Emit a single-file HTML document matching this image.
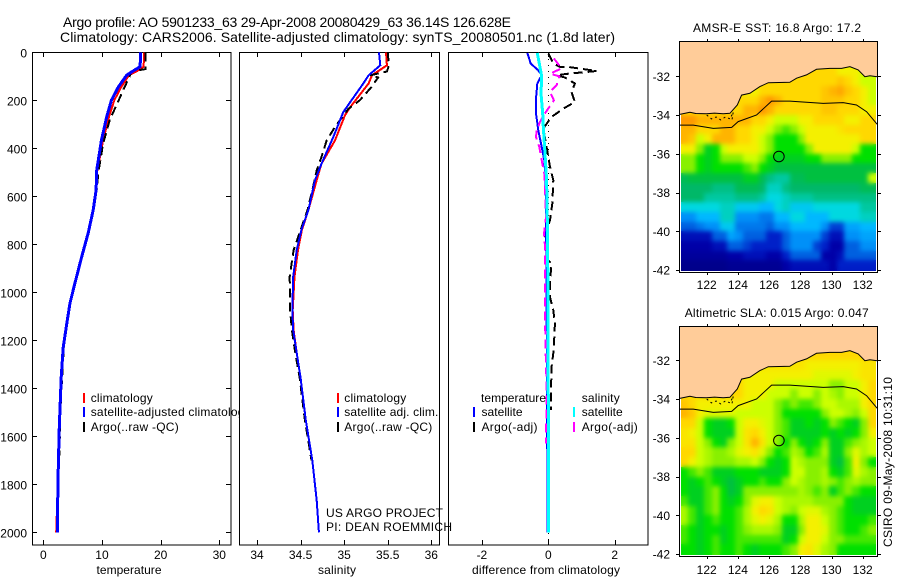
<!DOCTYPE html>
<html>
<head>
<meta charset="utf-8">
<title>Argo profile 5901233_63</title>
<style>
html,body{margin:0;padding:0;background:#fff;}
svg{display:block;}
text{font-family:"Liberation Sans",sans-serif;fill:#000;font-size:12px;}
.title{font-size:14px;}
.frame{fill:#fff;stroke:#000;stroke-width:1;shape-rendering:crispEdges;}
</style>
</head>
<body>
<svg id="chart" xmlns="http://www.w3.org/2000/svg" width="900" height="580" viewBox="0 0 900 580">
  <defs>
    <filter id="heat-smooth" x="-5%" y="-5%" width="110%" height="110%" color-interpolation-filters="sRGB">
      <feGaussianBlur in="SourceGraphic" stdDeviation="2.4" result="soft"/>
      <feMerge>
        <feMergeNode in="SourceGraphic"/>
        <feMergeNode in="soft"/>
      </feMerge>
    </filter>
  </defs>
  <rect x="0" y="0" width="900" height="580" fill="#fff"/>
  <text class="title" x="63" y="27" textLength="448">Argo profile: AO 5901233_63 29-Apr-2008 20080429_63 36.14S 126.628E</text>
  <text class="title" x="60" y="42" textLength="555">Climatology: CARS2006. Satellite-adjusted climatology: synTS_20080501.nc (1.8d later)</text>

  <g id="panel-t">
    <rect class="frame" x="32.5" y="52.5" width="198.5" height="492.5"/>
    <g id="marks-t"></g>
    <rect x="83" y="393" width="2" height="10" fill="#f00"/>
    <rect x="83" y="407" width="2" height="10" fill="#00f"/>
    <rect x="83" y="422" width="2" height="10" fill="#000"/>
    <text x="90.7" y="402" textLength="62">climatology</text>
    <text x="90.7" y="416" textLength="160">satellite-adjusted climatology</text>
    <text x="90.7" y="431" textLength="88">Argo(..raw -QC)</text>
    <text x="129" y="574" text-anchor="middle" textLength="65">temperature</text>
  </g>

  <g id="panel-s">
    <rect class="frame" x="239.5" y="52.5" width="200" height="492.5"/>
    <g id="marks-s"></g>
    <rect x="337" y="393" width="2" height="10" fill="#f00"/>
    <rect x="337" y="407" width="2" height="10" fill="#00f"/>
    <rect x="337" y="422" width="2" height="10" fill="#000"/>
    <text x="344.3" y="402" textLength="62">climatology</text>
    <text x="344.3" y="416" textLength="94">satellite adj. clim.</text>
    <text x="344.3" y="431" textLength="88">Argo(..raw -QC)</text>
    <text x="337" y="574" text-anchor="middle" textLength="38">salinity</text>
  </g>

  <g id="panel-d">
    <rect class="frame" x="448.5" y="52.5" width="199.5" height="492.5"/>
    <line x1="548.5" y1="53" x2="548.5" y2="545" stroke="#000" stroke-width="1" stroke-dasharray="1 5" shape-rendering="crispEdges"/>
    <g id="marks-d"></g>
    <text x="481" y="402" textLength="65">temperature</text>
    <text x="581.7" y="402" textLength="38">salinity</text>
    <rect x="473" y="407" width="2" height="10" fill="#00f"/>
    <rect x="473" y="422" width="2" height="10" fill="#000"/>
    <rect x="573" y="407" width="2" height="10" fill="#0ff"/>
    <rect x="573" y="422" width="2" height="10" fill="#f0f"/>
    <text x="481.5" y="416" textLength="41">satellite</text>
    <text x="481.5" y="431" textLength="56">Argo(-adj)</text>
    <text x="581.7" y="416" textLength="41">satellite</text>
    <text x="581.7" y="431" textLength="56">Argo(-adj)</text>
    <text x="546" y="574" text-anchor="middle" textLength="148">difference from climatology</text>
  </g>

  <text x="326" y="517" textLength="117">US ARGO PROJECT</text>
  <text x="326" y="531" textLength="126">PI: DEAN ROEMMICH</text>

  <g id="map-sst">
    <text x="693" y="32" textLength="168">AMSR-E SST: 16.8 Argo: 17.2</text>
  </g>
  <g id="map-sla">
    <text x="684.7" y="317" textLength="184">Altimetric SLA: 0.015 Argo: 0.047</text>
  </g>

  <text transform="translate(892,547) rotate(-90)" x="0" y="0" textLength="170">CSIRO 09-May-2008 10:31:10</text>
</svg>

<script>
// ---------- profile data ----------
var tempDepths = [0,60,78,96,144,200,269,367,492,574,657,753,852,961,1045,1130,1230,1355,1560,1780,2000];
var tempClim   = [17.2,17.1,16.0,14.6,13.3,12.1,11.2,10.2,9.2,9.0,8.5,7.65,6.55,5.4,4.6,4.0,3.45,3.1,2.75,2.5,2.2];
var tempSat    = [16.6,16.5,15.3,14.2,12.8,11.6,10.8,9.9,9.1,9.0,8.5,7.65,6.55,5.4,4.55,4.0,3.4,3.05,2.73,2.5,2.38];
var argoTDepths = [0,70,79,96,158,220,276,380,500,574,657,753,852,961,1045,1130,1230,1355,1500,1680];
var argoT       = [17.4,17.4,15.0,14.8,13.6,12.5,11.4,10.2,9.4,9.1,8.5,7.6,6.5,5.4,4.6,3.9,3.5,3.2,2.9,2.75];

var salClimDepths = [0,54,96,130,228,262,367,464,519,657,740,824,935,1074,1157,1253,1357,1533,1700,1867,2000];
var salClim       = [35.48,35.49,35.32,35.28,35.07,35.01,34.895,34.74,34.695,34.59,34.515,34.47,34.43,34.41,34.42,34.455,34.50,34.56,34.635,34.685,34.71];
var salSatDepths  = [0,54,96,130,207,249,353,464,533,657,740,824,935,1074,1157,1253,1357,1533,1700,1867,2000];
var salSat        = [35.40,35.415,35.28,35.22,35.07,34.99,34.875,34.74,34.665,34.59,34.51,34.455,34.415,34.405,34.415,34.455,34.50,34.56,34.635,34.685,34.71];
var argoSDepths   = [0,54,80,96,105,125,144,200,235,311,367,436,492,575,657,740,824,935,1074,1157,1253,1357,1533,1700];
var argoS         = [35.5,35.515,35.49,35.3,35.39,35.35,35.315,35.18,35.05,34.895,34.8,34.74,34.685,34.635,34.58,34.50,34.42,34.375,34.38,34.40,34.44,34.49,34.55,34.625];

var diffTSatDepths = [3,47,75,96,130,193,255,325,394,450,533,700,1000,1400,2000];
var diffTSat       = [-0.63,-0.53,-0.3,-0.2,-0.33,-0.37,-0.37,-0.3,-0.2,-0.12,-0.08,-0.07,-0.05,-0.04,-0.02];
var diffSSatDepths = [3,47,100,172,255,311,422,533,700,1000,1500,2000];
var diffSSat       = [-0.33,-0.27,-0.2,-0.22,-0.17,-0.15,-0.1,-0.05,-0.03,-0.01,0.0,0.0];
var diffTArgoDepths = [5,47,61,61,68,78,89,96,105,130,165,207,235,269,317,394,477,533,630,700,755,825,854,880,950,1020,1075,1130,1187,1254,1310,1406,1490];
var diffTArgo       = [0,0.15,0.35,0.6,0.95,1.46,0.6,0.25,0.5,0.8,0.7,0.8,0.45,0.1,-0.15,-0.05,0.05,0.15,0.12,0.05,-0.1,-0.07,-0.1,0.1,0.05,0.05,0.15,0.2,0.18,0.15,0.1,0.08,0.08];
var diffSArgoDepths = [26,67,89,100,137,165,200,254,290,325,353,394,450,506,687,755,810,935,1100,1240,1395,1630];
var diffSArgo       = [0.17,0.4,0.05,0.33,0.25,0.05,0.17,-0.1,-0.25,-0.35,-0.37,-0.27,-0.2,-0.12,-0.07,-0.13,-0.1,-0.1,-0.1,-0.08,-0.05,-0.07];

// ---------- tick labels ----------
var depthTicks = [0,200,400,600,800,1000,1200,1400,1600,1800,2000];
var tempTicks  = [0,10,20,30];
var salTicks   = [34,34.5,35,35.5,36];
var diffTicks  = [-2,0,2];
var lonTicks   = [122,124,126,128,130,132];
var latTicks   = [-32,-34,-36,-38,-40,-42];

// ---------- map data (columns every 0.5 deg from 120.33E, rows every 0.5 deg from 31.5S) ----------
var sstGrid = [
[14,14,14,14,14,14,14,14,14,14,14,14,14,14,14,14,14,14,14,14,13,13,13,12,12],
[14,14,14,14,14,14,14,14,14,14,14,14,14,14,14,14,14,14,14,14,14.5,14,13,12,12],
[14,14,14,14,14,14,14,14,13,13,14,14,14,14,14,14,14,14,14.5,15,15.5,14.5,14,13,12],
[14,14,14,14,14,14,14,14,14,14,15,16,15,14,14,14,14,14,14.5,14.5,14.5,14,14,13,12],
[14,14,14,14,14,14,14,14,15,15,16,15,14,14,14,14,14,14,14.5,14.5,14,14,14,13,13],
[16,16,15,15,15,15,15,15,15,14,14,13,12,12,12,13,13,14,14,14,14,13,13,14,14],
[15,15,14,14,14,15,15,14,14,13,13,12,11,10.5,11,12,13,13,13,13,13.5,14,14,14,14],
[15,14.5,12,13,15,15,15,14,14,13,12,11,10,10,10,11,13,13,13,13,13,13,13,14,14],
[13,13,11,9.5,10,12,13,13,13,13,12,11,10,10,10,10,11,13,13,13,13,13,12,10,10],
[11,11,10,9.5,10,11,11,11,12,12,11,10,9.5,9.5,9.5,9.5,10,10,11,11,11,11,10,10,10],
[11,11,10,9.5,10,10,10,10,10.5,11,10,9.5,9,9,9,9,9,9,9,9,9,9,9,9,9],
[8.5,9,9,9,9,9,9,9,9.5,9.5,8.5,7.5,7,7,8.5,8.5,9,9,9,9,9,9,9,9,12],
[8,8,8,8,7.5,7.5,7.5,8.5,8.5,8.5,8,6.5,6.5,7.5,8,8,8,8,8,8,8,8,8,8.5,8.5],
[8,8,8,7,7,7,7,7.5,7.5,7.5,7,6,6,6.5,7,7,7,7.5,7.5,7.5,7.5,7.5,7.5,7.5,7.5],
[6,6,6,6,6,6.5,6.5,5.5,5.5,5.5,5,5,6,6.5,5.5,5.5,5.5,6,6,6,6,6,6,7,7],
[4,4,5,5,5,6.5,6.5,4,4,4,3.5,3.5,5,5,6,6,5,5,5,6,6,6,6,6.5,6.5],
[3,3,3.5,4,4,5.5,5.5,3.5,3.5,3.5,3.5,3,4,4,5,5,5,5,4,2.5,2.5,4.5,4.5,5,5],
[1.5,1.5,1.5,1.5,3,3,4.5,4,3,3,3,2,2,3,4,4,4,4,2.5,1.5,1.5,4,4,4.5,4.5],
[1,1,1,1,1.5,1.5,3,3,2.5,2,2,2,2,3,4,4,4,2.5,2,1,1,3,3,4,4],
[0.7,0.7,0.7,0.7,0.7,0.7,1,1,1.5,1.5,1.5,1,1,2,3,3,3,3,1,1,1.5,3,3,3,3],
[0.3,0.3,0.3,0.3,0.3,0.3,0.5,0.5,0.5,0.5,0.5,0.5,0.5,1,1.5,1.5,1.5,1.5,1.5,1,2,2,2,2,2],
[0,0,0,0,0,0,0,0,0,0,0,0,0,0.5,1,1,1,1,1,1,1.5,1.5,1.5,1.5,1.5]
];
var slaGrid = [
[14,14,14,14,14,14,14,14,14,14,14,14,14,14,14,14,14,14,14,14,14,14,14,14,14],
[14,14,14,14,14,14,14,14,13.5,13.5,13.5,13.5,13.5,13.5,13.5,13.5,13,13,13,13,13,13,13,13.5,13.5],
[14,14,14,14,14,14,14,14,13,13,13,13,13,13,13,13,13,12.5,12.5,12.5,12.5,12.5,13,13.5,13.5],
[14,14,14,14,14,14,14,14,13,13,13,13,12,12,12,12,12,12,12,11,11,12,12,13,14],
[14,14,14,14,14,14,14,14,13,13,13,12,12,12,11,12,12,11,12,11.5,11,12,12,13,14],
[14.5,14,13,13,13,13,13,13,13,12,12,12,11,10.5,11,10.5,10.5,11,12,12,11.5,11.5,11.5,13,14],
[15,14.5,13,12.5,12.5,12.5,12.5,12,12,12,12,12,11,10,10,10,10,10,11,12,12,11.5,11,12,14],
[14,14,12,10,9.5,9.5,10,12,13,13,12.5,12,11,10.5,9.5,9.5,10,9.5,10,11,10.5,10,9.5,11,14],
[13.5,13,12,10,9.5,9.5,9.5,12,13.5,14,13,12,11,10.5,9.5,9.5,9.5,9.5,10,9.5,10,9.5,10,11,13],
[13.5,13.5,12,11,10,9.5,11,12,13.5,15,13.5,12,11,10,11,10,9.5,10,11,9.5,9.5,10.5,11,11.5,12],
[14,14,12,11.5,11,11,11.5,12.5,13,13.5,12.5,11,10,10.5,11.5,11,10,10.5,11.5,9.5,9.5,11,12.5,11.5,12],
[14,13,12,11.5,11,11,11,11.5,11.5,12,11,10,9.5,10,12,11.5,11,11,11,9.5,9,10.5,13,11,10],
[10,10.5,11,10.5,9.5,9.5,9.5,10,10,10,9.5,9.5,9.5,10,12,12,11,11,11.5,10,9.5,10.5,12.5,11.5,11],
[10,9.5,10,10.5,10,9.5,9,9.5,10,10,10.5,10,10,11,12,11.5,11,11,11.5,11,10.5,11,11.5,11,11],
[10,9.5,9.5,10.5,11,10,9,9.5,11,11,11,11,11,11,11,11.5,11,10.5,11,9.5,10.5,11,10.5,10,10],
[10.5,9.5,9.5,10.5,11,10,9.5,10,11,12.5,13,13,12,11.5,11.5,11.5,11.5,11,11,11,11,10,9.5,9.5,9.5],
[11.5,10.5,9.5,10.5,11,10,10,10.5,11.5,13,14,13.5,12,11.5,11,12,12.5,12.5,11.5,11,10.5,10,9.5,9.5,9.5],
[11.5,10.5,9.5,10,10.5,10,10,10.5,11.5,12.5,13,12.5,11.5,10,10,11.5,13,13,12,11,10.5,10,10,10,10.5],
[10.5,10,9.5,10,10,9.5,10,10.5,11,11.5,11.5,11.5,11,9.5,9.5,11,13,13,12.5,11,10.5,10,10,10.5,11],
[10.5,10,9.5,10,10.5,9.5,10,10.5,10.5,10.5,10.5,10.5,10.5,9.5,10,12,13,13,12,11,11,10.5,10.5,10.5,10.5],
[10,10,9.5,10,10.5,10,10,10.5,10,9.5,10,10,10,10.5,11,13,13.5,12.5,11.5,11,10,10,10,10,10],
[10,10,9.5,10,10.5,10,10,10.5,10,9.5,10,10,10,10.5,11,13,13.5,12.5,11.5,11,10,10,10,10,10]
];
var colorStops = ["#000080","#0000a8","#0020c8","#0060e0","#0090f8","#00b8ff","#00d8e0","#00c8a0","#00b868","#00c040","#00e000","#88f000","#ccff00","#f4f000","#ffd800","#ffb400","#ff9800"];

var coastLon = [120.24,120.92,121.3,121.99,122.5,123.06,123.49,123.96,124.24,124.77,125.41,125.95,127.33,127.76,128.4,129.04,129.9,130.65,131.18,131.71,132.14,132.46,132.93];
var coastLat = [-33.97,-33.86,-33.92,-33.93,-33.9,-33.93,-33.91,-33.48,-32.97,-32.88,-32.53,-32.33,-32.31,-32.10,-31.93,-31.64,-31.59,-31.59,-31.5,-31.67,-32.02,-31.97,-32.02];
var shelfLon = [120.24,121.14,122.42,123.6,124.02,125.2,126.16,127.33,128.4,129.47,130.75,131.6,132.25,132.93];
var shelfLat = [-34.52,-34.52,-34.69,-34.64,-34.34,-34.0,-33.28,-33.28,-33.34,-33.4,-33.36,-33.48,-33.83,-34.48];
var isletLon = [122.0,122.3,122.6,122.9,123.2,123.5,123.7,123.6];
var isletLat = [-34.0,-34.2,-34.1,-34.25,-34.1,-34.2,-33.85,-34.35];
var argoLon = 126.628;
var argoLat = -36.14;

// ---------- helpers ----------
var NS = 'http://www.w3.org/2000/svg';
function make(tag, parent, attrs) {
  var el = document.createElementNS(NS, tag);
  for (var k in attrs) el.setAttribute(k, attrs[k]);
  parent.appendChild(el);
  return el;
}
function depthY(d) { return 52.3 + 0.24 * d; }
function tempX(v) { return 43.3 + 5.867 * v; }
function salX(v) { return 257 + 87.15 * (v - 34); }
function diffX(v) { return 548.3 + 33.2 * v; }

function drawProfile(group, xFn, depths, values, color, width, dash, name) {
  var pts = [];
  for (var i = 0; i < values.length; i++) pts.push(xFn(values[i]).toFixed(1) + ',' + depthY(depths[i]).toFixed(1));
  var attrs = {points: pts.join(' '), fill: 'none', stroke: color, 'stroke-width': width, 'shape-rendering': 'crispEdges'};
  if (dash) attrs['stroke-dasharray'] = dash;
  var el = make('polyline', group, attrs);
  
  
}
function tick(parent, x1, y1, x2, y2) {
  var el = make('line', parent, {x1: x1, y1: y1, x2: x2, y2: y2, stroke: '#000', 'stroke-width': 1, 'shape-rendering': 'crispEdges'});
  
  
}
function label(parent, x, y, anchor, str) {
  var el = make('text', parent, {x: x, y: y, 'text-anchor': anchor});
  el.textContent = String(str);
  
  
}
function xAxisTicks(parent, ticks, xFn) {
  ticks.forEach(function (t) {
    var x = Math.round(xFn(t)) + 0.5;
    tick(parent, x, 53, x, 57);
    tick(parent, x, 540, x, 545);
    label(parent, xFn(t), 559, 'middle', t);
  });
}

// ---------- profile panels ----------
var gT = document.getElementById('marks-t');
var gS = document.getElementById('marks-s');
var gD = document.getElementById('marks-d');

xAxisTicks(gT, tempTicks, tempX);
depthTicks.forEach(function (d) {
  var y = Math.round(depthY(d)) + 0.5;
  tick(gT, 33, y, 37, y);
  tick(gT, 226, y, 231, y);
  label(gT, 27, depthY(d) + 5, 'end', d);
});
drawProfile(gT, tempX, tempDepths, tempClim, '#f00', 2, '', 'temperature-climatology-line');
drawProfile(gT, tempX, argoTDepths, argoT, '#000', 2, '9 5', 'temperature-argo-line');
drawProfile(gT, tempX, tempDepths, tempSat, '#00f', 3, '', 'temperature-satellite-line');

xAxisTicks(gS, salTicks, salX);
drawProfile(gS, salX, salClimDepths, salClim, '#f00', 2, '', 'salinity-climatology-line');
drawProfile(gS, salX, argoSDepths, argoS, '#000', 2, '9 5', 'salinity-argo-line');
drawProfile(gS, salX, salSatDepths, salSat, '#00f', 2, '', 'salinity-satellite-line');

xAxisTicks(gD, diffTicks, diffX);
drawProfile(gD, diffX, diffTArgoDepths, diffTArgo, '#000', 2, '9 5', 'difference-temperature-argo-line');
drawProfile(gD, diffX, diffTSatDepths, diffTSat, '#00f', 2, '', 'difference-temperature-satellite-line');
drawProfile(gD, diffX, diffSArgoDepths, diffSArgo, '#f0f', 2, '9 5', 'difference-salinity-argo-line');
drawProfile(gD, diffX, diffSSatDepths, diffSSat, '#0ff', 3, '', 'difference-salinity-satellite-line');

// ---------- maps ----------
function hexToRgb(h) { return [parseInt(h.substr(1, 2), 16), parseInt(h.substr(3, 2), 16), parseInt(h.substr(5, 2), 16)]; }
function colorFor(v) {
  var lo = Math.min(Math.floor(v), colorStops.length - 2);
  var f = v - lo;
  var a = hexToRgb(colorStops[lo]);
  var b = hexToRgb(colorStops[lo + 1]);
  return 'rgb(' + Math.round(a[0] + (b[0] - a[0]) * f) + ',' + Math.round(a[1] + (b[1] - a[1]) * f) + ',' + Math.round(a[2] + (b[2] - a[2]) * f) + ')';
}

function drawMap(groupId, box, grid, tickBaseline) {
  var g = document.getElementById(groupId);
  var lonX = function (lon) { return 706.7 + 15.6 * (lon - 122); };
  var latY = function (lat) { return box.lat32 + 19.37 * (-32 - lat); };

  var bg = make('rect', g, {x: box.x0, y: box.y0, width: box.x1 - box.x0, height: box.y1 - box.y0, fill: '#fff'});
  
  

  var clipId = groupId + '-clip';
  var clip = make('clipPath', g, {id: clipId});
  make('rect', clip, {
    x: Math.round(lonX(120.33)),
    y: Math.round(latY(-31.5)),
    width: Math.round(lonX(132.83)) - Math.round(lonX(120.33)),
    height: Math.round(latY(-42.06)) - Math.round(latY(-31.5))
  });
  var clipGroup = make('g', g, {'clip-path': 'url(#' + clipId + ')'});
  
  
  var cells = make('g', clipGroup, {filter: 'url(#heat-smooth)'});
  
  

  grid.forEach(function (row, r) {
    var top = -31.5 - 0.5 * r;
    var bottom = Math.max(top - 0.5, -42.06);
    row.forEach(function (v, c) {
      var left = 120.33 + 0.5 * c;
      var yA = Math.round(latY(top));
      var yB = Math.round(latY(bottom));
      var xA = Math.round(lonX(left));
      var xB = Math.round(lonX(left + 0.5));
      var cell = make('rect', cells, {x: xA, y: yA, width: xB - xA, height: yB - yA, fill: colorFor(v), 'shape-rendering': 'crispEdges'});
      
      
    });
  });

  var coastPts = coastLon.map(function (lon, i) { return lonX(lon).toFixed(1) + ',' + latY(coastLat[i]).toFixed(1); });
  var landPts = [box.x0 + ',' + box.y0].concat(coastPts.map(function (p, i) { return i === 0 ? box.x0 + ',' + p.split(',')[1] : p; }));
  landPts.push(box.x1 + ',' + latY(coastLat[coastLat.length - 1]).toFixed(1));
  landPts.push(box.x1 + ',' + box.y0);
  var land = make('polygon', g, {points: landPts.join(' '), fill: '#ffcc99', stroke: 'none'});
  
  

  var coast = make('polyline', g, {points: coastPts.join(' '), fill: 'none', stroke: '#000', 'stroke-width': 1});
  
  

  var isletPts = isletLon.map(function (lon, i) { return lonX(lon).toFixed(1) + ',' + latY(isletLat[i]).toFixed(1); });
  var islets = make('polyline', g, {points: isletPts.join(' '), fill: 'none', stroke: '#000', 'stroke-width': 1, 'stroke-dasharray': '2 3'});
  
  

  var shelfPts = shelfLon.map(function (lon, i) { return lonX(lon).toFixed(1) + ',' + latY(shelfLat[i]).toFixed(1); });
  var shelf = make('polyline', g, {points: shelfPts.join(' '), fill: 'none', stroke: '#000', 'stroke-width': 1});
  
  

  var marker = make('circle', g, {cx: lonX(argoLon), cy: latY(argoLat), r: 5.3, fill: 'none', stroke: '#000', 'stroke-width': 1});
  
  

  var frame = make('rect', g, {x: box.x0 + 0.5, y: box.y0 + 0.5, width: box.x1 - box.x0 - 1, height: box.y1 - box.y0 - 1, fill: 'none', stroke: '#000', 'stroke-width': 1, 'shape-rendering': 'crispEdges'});
  
  

  lonTicks.forEach(function (lon) {
    var x = Math.round(lonX(lon)) + 0.5;
    tick(g, x, box.y0 - 2, x, box.y0 + 1);
    tick(g, x, box.y1 - 1, x, box.y1 + 2);
    label(g, lonX(lon), tickBaseline, 'middle', lon);
  });
  latTicks.forEach(function (lat) {
    var y = Math.round(latY(lat)) + 0.5;
    tick(g, box.x0 - 3, y, box.x0 + 1, y);
    tick(g, box.x1 - 1, y, box.x1 + 3, y);
    label(g, 670, latY(lat) + 4.5, 'end', lat);
  });
}

drawMap('map-sst', {x0: 679, x1: 878, y0: 41, y1: 273, lat32: 76.3}, sstGrid, 289);
drawMap('map-sla', {x0: 679, x1: 878, y0: 326, y1: 557, lat32: 360.3}, slaGrid, 574);
</script>
</body>
</html>
